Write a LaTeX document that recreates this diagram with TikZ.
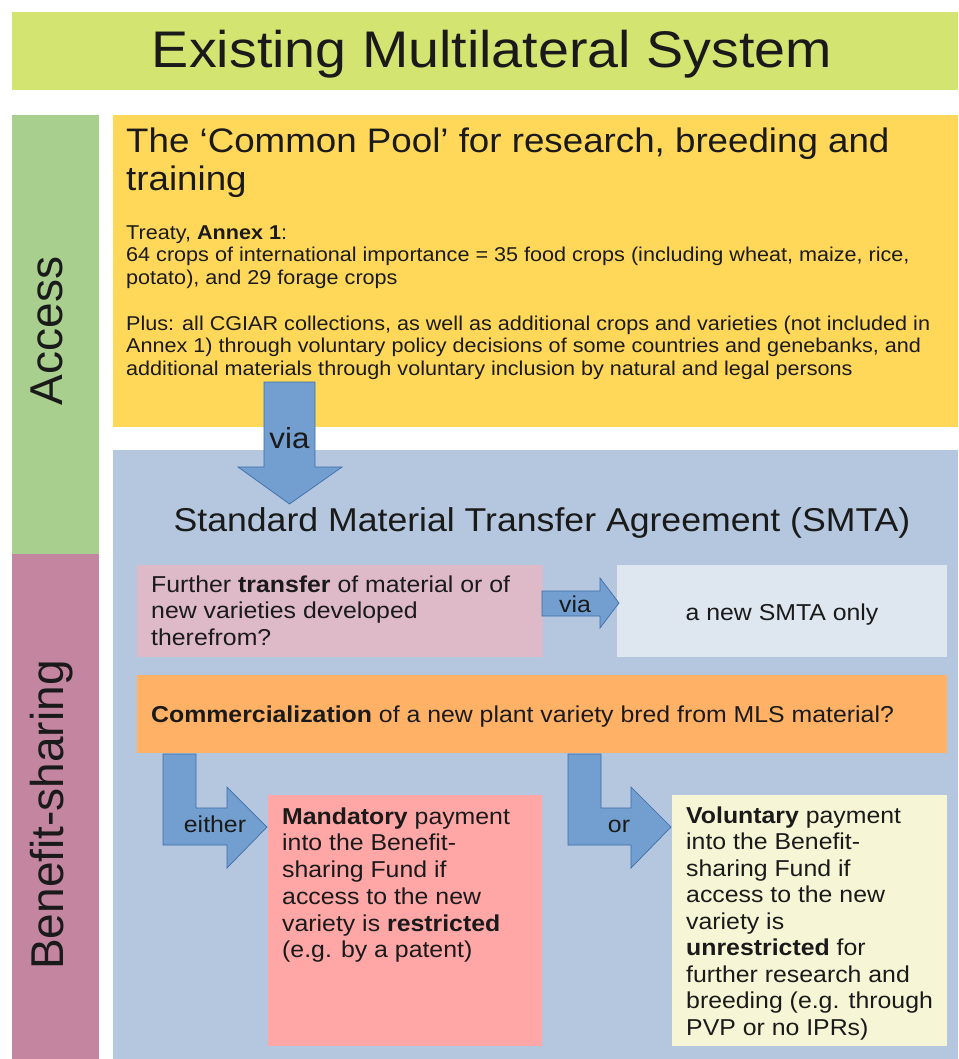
\documentclass[tikz,border=0pt]{standalone}
\usepackage{fontspec}
\setmainfont{Liberation Sans}[FakeStretch=1.08]
\newfontfamily\rotfont{Liberation Sans}
\newcommand\myfs[2]{\fontsize{#1}{#2}\selectfont}
\definecolor{titlecol}{RGB}{211,229,112}
\definecolor{accesscol}{RGB}{168,207,141}
\definecolor{benefitcol}{RGB}{196,133,160}
\definecolor{poolcol}{RGB}{255,216,90}
\definecolor{smtacol}{RGB}{180,199,222}
\definecolor{transfercol}{RGB}{222,186,200}
\definecolor{newsmtacol}{RGB}{222,230,239}
\definecolor{commcol}{RGB}{255,178,102}
\definecolor{mandcol}{RGB}{255,166,166}
\definecolor{volcol}{RGB}{246,246,214}
\definecolor{arrowfill}{RGB}{114,159,207}
\definecolor{arrowedge}{RGB}{62,110,170}
\definecolor{txt}{RGB}{26,26,26}
\begin{document}
\begin{tikzpicture}[x=1pt,y=-1pt,
  box/.style={draw=none, inner sep=0pt, anchor=north west},
  txtnode/.style={inner sep=0pt, text=txt, align=left, anchor=north west},
  label/.style={inner sep=0pt, text=txt, anchor=base},
  blockarrow/.style={fill=arrowfill, draw=arrowedge, line width=0.7pt, line join=miter}
]
\useasboundingbox (0,0) rectangle (958,1059);
\fill[white] (0,0) rectangle (958,1059);

% boxes
\node[box, fill=titlecol, minimum width=946pt, minimum height=78pt] (titlebox) at (12,12) {};
\node[box, fill=accesscol, minimum width=87pt, minimum height=439pt] (accessbar) at (12,115) {};
\node[box, fill=benefitcol, minimum width=87pt, minimum height=505pt] (benefitbar) at (12,554) {};
\node[box, fill=poolcol, minimum width=845pt, minimum height=312pt] (pool) at (113,115) {};
\node[box, fill=smtacol, minimum width=845pt, minimum height=609pt] (smta) at (113,450) {};
\node[box, fill=transfercol, minimum width=406pt, minimum height=92pt] (transfer) at (137,565) {};
\node[box, fill=newsmtacol, minimum width=330pt, minimum height=92pt] (newsmta) at (617,565) {};
\node[box, fill=commcol, minimum width=810pt, minimum height=78pt] (comm) at (137,675) {};
\node[box, fill=mandcol, minimum width=274pt, minimum height=251pt] (mand) at (268,795) {};
\node[box, fill=volcol, minimum width=275pt, minimum height=251pt] (vol) at (672,795) {};

% block arrows
\draw[blockarrow] (264,382) -- (315,382) -- (315,467) -- (342,467) -- (289.5,504)
  -- (238,467) -- (264,467) -- cycle;
\draw[blockarrow] (542,591) -- (600,591) -- (600,578) -- (619,603) -- (600,628)
  -- (600,616) -- (542,616) -- cycle;
\draw[blockarrow] (163,754) -- (196,754) -- (196,808) -- (227,808) -- (227,787)
  -- (267,827) -- (227,868) -- (227,845) -- (163,845) -- cycle;
\draw[blockarrow] (568,754) -- (601,754) -- (601,808) -- (631,808) -- (631,787)
  -- (671,827) -- (631,868) -- (631,845) -- (568,845) -- cycle;

% titles
\node[label, font=\myfs{51.5}{60}] (title) at (492,68) {Existing Multilateral System};
\node[label, font=\rotfont\myfs{46}{52}, rotate=90] (accesslbl) at (62,331) {Access};
\node[label, font=\rotfont\myfs{46}{52}, rotate=90] (benefitlbl) at (63,815) {Benefit-sharing};

% pool texts
\node[txtnode, font=\myfs{34}{38}] (poolhead) at (126,125.4)
  {\strut The ‘Common Pool’ for research, breeding and\\training};
\node[txtnode, font=\myfs{20}{22.7}] (treaty) at (126,223.1)
  {\strut Treaty, \textbf{Annex 1}:\\
   64 crops of international importance = 35 food crops (including wheat, maize, rice,\\
   potato), and 29 forage crops};
\node[txtnode, font=\myfs{20}{22.7}] (plus) at (126,314.1)
  {\strut Plus: all CGIAR collections, as well as additional crops and varieties (not included in\\
   Annex 1) through voluntary policy decisions of some countries and genebanks, and\\
   additional materials through voluntary inclusion by natural and legal persons};

% smta texts
\node[label, font=\myfs{33}{38}] (smtahead) at (542,531) {Standard Material Transfer Agreement (SMTA)};
\node[txtnode, font=\myfs{23}{26.7}] (transfertxt) at (151,573.3)
  {\strut Further \textbf{transfer} of material or of\\new varieties developed\\therefrom?};
\node[label, font=\myfs{23}{26.7}] (newsmtatxt) at (782,620) {a new SMTA only};
\node[label, font=\myfs{23}{26.7}, anchor=base west] (commtxt) at (151,722)
  {\textbf{Commercialization} of a new plant variety bred from MLS material?};
\node[txtnode, font=\myfs{23}{26.7}] (mandtxt) at (282,805.3)
  {\strut\textbf{Mandatory} payment\\into the Benefit-\\sharing Fund if\\access to the new\\variety is \textbf{restricted}\\(e.g. by a patent)};
\node[txtnode, font=\myfs{23}{26.5}] (voltxt) at (686,804.5)
  {\strut\textbf{Voluntary} payment\\into the Benefit-\\sharing Fund if\\access to the new\\variety is\\\textbf{unrestricted} for\\further research and\\breeding (e.g. through\\PVP or no IPRs)};

% arrow labels
\node[label, font=\myfs{29}{34}] (via1) at (289.5,448) {via};
\node[label, font=\myfs{23}{26.7}] (via2) at (575,612) {via};
\node[label, font=\myfs{23}{26.7}] (either) at (215,832) {either};
\node[label, font=\myfs{23}{26.7}] (or) at (619,832) {or};
\end{tikzpicture}
\end{document}
